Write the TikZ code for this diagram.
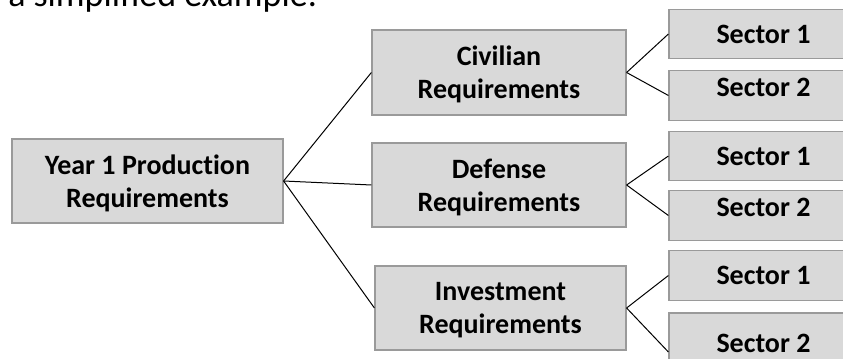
\documentclass[tikz,border=0pt]{standalone}
\usepackage{fontspec}
\setmainfont{Carlito}[Ligatures=NoCommon]
\usepackage{tikz}
\definecolor{boxfill}{HTML}{D9D9D9}
\definecolor{boxline}{HTML}{9A9A9A}

\begin{document}
\begin{tikzpicture}[x=0.75pt,y=0.75pt,yscale=-1,xscale=1,
    reqbox/.style={draw=boxline,fill=boxfill,line width=0.9pt,inner sep=0pt,align=center,
      font=\fontsize{21}{25}\selectfont\bfseries},
    twoline/.style={reqbox,text depth=0pt},
    secbox/.style={reqbox,minimum width=141.75pt,minimum height=37pt},
    seclow/.style={secbox,text height=14pt,text depth=12.5pt},
    link/.style={draw=black,line width=0.75pt}]
    %set diagram size to 843 x 359
    \useasboundingbox (0,0) rectangle (843,359);
    \clip (0,0) rectangle (843,359);

    % Title Text (cut off)
    \node [anchor=base west,inner sep=0pt,font=\fontsize{27}{30}\selectfont] (title) at (8,7) {a simplified example:};

    % Text Node
    \node [twoline,minimum width=203.25pt,minimum height=63pt] (year) at (147.5,181) {Year 1 Production\\Requirements};
    % Text Node
    \node [twoline,minimum width=190.5pt,minimum height=63.75pt] (civ) at (499,72.5) {Civilian\\Requirements};
    % Text Node
    \node [twoline,minimum width=190.5pt,minimum height=63pt] (def) at (499,185) {Defense\\Requirements};
    % Text Node
    \node [twoline,minimum width=188.25pt,minimum height=63pt] (inv) at (500.5,308) {Investment\\Requirements};

    % Sector Nodes
    \node [secbox] (civa) at (763.5,34) {Sector 1};
    \node [seclow] (civb) at (763.5,95.5) {Sector 2};
    \node [secbox] (defa) at (763.5,156) {Sector 1};
    \node [seclow] (defb) at (763.5,215.5) {Sector 2};
    \node [secbox] (inva) at (763.5,275.5) {Sector 1};
    \node [seclow,minimum height=58.5pt] (invb) at (763.5,352) {Sector 2};

    %Straight Lines
    \draw [link] (year.east) -- (civ.west) ;
    \draw [link] (year.east) -- (def.west) ;
    \draw [link] (year.east) -- (inv.west) ;
    %Straight Lines
    \draw [link] (civ.east) -- (civa.west) ;
    \draw [link] (civ.east) -- (civb.west) ;
    \draw [link] (def.east) -- (defa.west) ;
    \draw [link] (def.east) -- (defb.west) ;
    \draw [link] (inv.east) -- (inva.west) ;
    \draw [link] (inv.east) -- (invb.west) ;

\end{tikzpicture}
\end{document}
